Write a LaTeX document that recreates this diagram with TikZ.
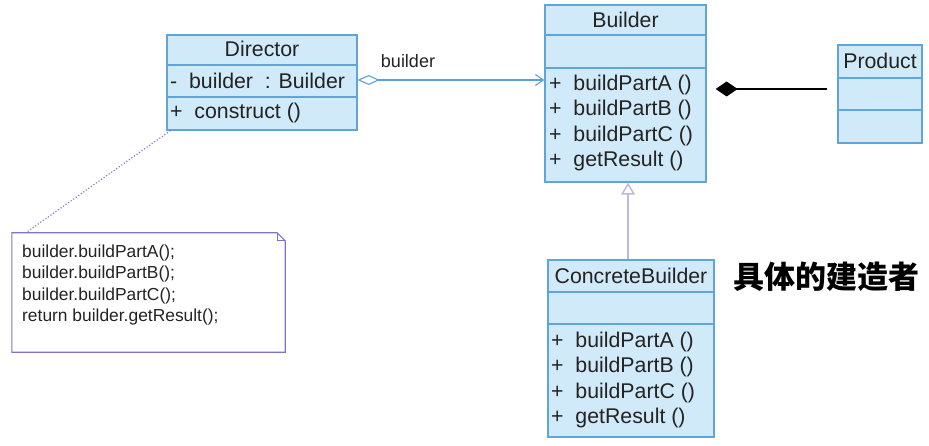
\documentclass[tikz,border=0pt]{standalone}
\usepackage{fontspec}
\setmainfont{Liberation Sans}
\newfontfamily\cjk{Noto Sans CJK SC}
\usetikzlibrary{arrows.meta,calc}
\definecolor{clsfill}{RGB}{208,234,249}
\definecolor{clsborder}{RGB}{95,165,215}
\definecolor{assoc}{RGB}{90,160,220}
\definecolor{genline}{RGB}{190,185,228}
\definecolor{noteline}{RGB}{125,115,205}
\definecolor{txt}{RGB}{35,35,35}
\tikzset{
  cls/.style={draw=clsborder, fill=clsfill, line width=1.3pt, inner sep=0pt},
  sep/.style={draw=clsborder, line width=1.3pt},
  ctext/.style={font=\fontsize{21.3}{25.5}\selectfont, text=txt, inner sep=0pt, align=left},
  notetext/.style={font=\fontsize{17.4}{21.3}\selectfont, text=txt, inner sep=0pt, align=left},
  assocline/.style={draw=assoc, line width=1.1pt},
  genl/.style={draw=genline, line width=1.5pt},
  compline/.style={draw=black, line width=1.5pt},
  noteedge/.style={draw=noteline, line width=1.1pt},
}
\begin{document}
\begin{tikzpicture}[x=1pt,y=-1pt]
\useasboundingbox (0,0) rectangle (929,446);

% Director
\node[cls, minimum width=190pt, minimum height=95pt] (director) at (262,82.5) {};
\draw[sep] (167,65) -- (357,65);
\draw[sep] (167,97) -- (357,97);
\node[ctext] (directortitle) at (262,49) {Director};
\node[ctext, anchor=west] (directorattr) at (170,81) {-\ \ builder\ \ : Builder};
\node[ctext, anchor=west] (directorops) at (170,113) {+\ \ construct ()};

% Builder
\node[cls, minimum width=161pt, minimum height=177pt] (builder) at (625.5,93.5) {};
\draw[sep] (545,35) -- (706,35);
\draw[sep] (545,68) -- (706,68);
\node[ctext] (buildertitle) at (625.5,20) {Builder};
\node[ctext, anchor=west] (builderops) at (549,123) {+\ \ buildPartA ()\\+\ \ buildPartB ()\\+\ \ buildPartC ()\\+\ \ getResult ()};

% Product
\node[cls, minimum width=84pt, minimum height=98pt] (product) at (880,94) {};
\draw[sep] (838,78) -- (922,78);
\draw[sep] (838,110) -- (922,110);
\node[ctext] (producttitle) at (880,61) {Product};

% ConcreteBuilder
\node[cls, minimum width=166pt, minimum height=177pt] (concrete) at (631,348.5) {};
\draw[sep] (548,292) -- (714,292);
\draw[sep] (548,324) -- (714,324);
\node[ctext] (concretetitle) at (631,276) {ConcreteBuilder};
\node[ctext, anchor=west] (concreteops) at (551,380) {+\ \ buildPartA ()\\+\ \ buildPartB ()\\+\ \ buildPartC ()\\+\ \ getResult ()};

% Note
\node[minimum width=273pt, minimum height=119pt, inner sep=0pt] (note) at (148.5,292.5) {};
\draw[noteedge] (note.north west) -- ([xshift=-8pt]note.north east) -- ([yshift=-8pt]note.north east) -- (note.south east) -- (note.south west) -- cycle;
\draw[noteedge, line width=0.8pt] ([xshift=-8pt]note.north east) -- ([xshift=-8pt,yshift=-8pt]note.north east) -- ([yshift=-8pt]note.north east);
\node[notetext, anchor=west] (notetxt) at (22,285) {builder.buildPartA();\\builder.buildPartB();\\builder.buildPartC();\\return builder.getResult();};

% Note link
\draw[noteedge, dotted, line width=1.2pt] ([xshift=4pt]director.south west) -- ([xshift=14pt]note.north west);

% Association Director -> Builder
\draw[assocline, {Diamond[open, length=22pt, width=10pt, fill=white]}-{Straight Barb[length=8pt, width=11pt]}]
  ([yshift=2.5pt]director.east) -- ([yshift=2.5pt]director.east -| builder.west);
\node[ctext, font=\fontsize{18}{20}\selectfont] (assoclabel) at (408,61) {builder};

% Composition Product -> Builder
\draw[compline, -{Diamond[length=22pt, width=15pt]}] ([xshift=-10pt,yshift=5pt]product.west) -- ([xshift=9pt,yshift=5pt]product.west -| builder.east);

% Generalization ConcreteBuilder -> Builder
\draw[genl, -{Triangle[open, length=12pt, width=14pt, fill=white]}] ([xshift=-3pt]concrete.north) -- ([xshift=-3pt]concrete.north |- builder.south);

% Handwritten note
\node[font=\cjk\bfseries\fontsize{31}{34}\selectfont, inner sep=0pt] (cjklabel) at (826,277) {具体的建造者};
\end{tikzpicture}
\end{document}
